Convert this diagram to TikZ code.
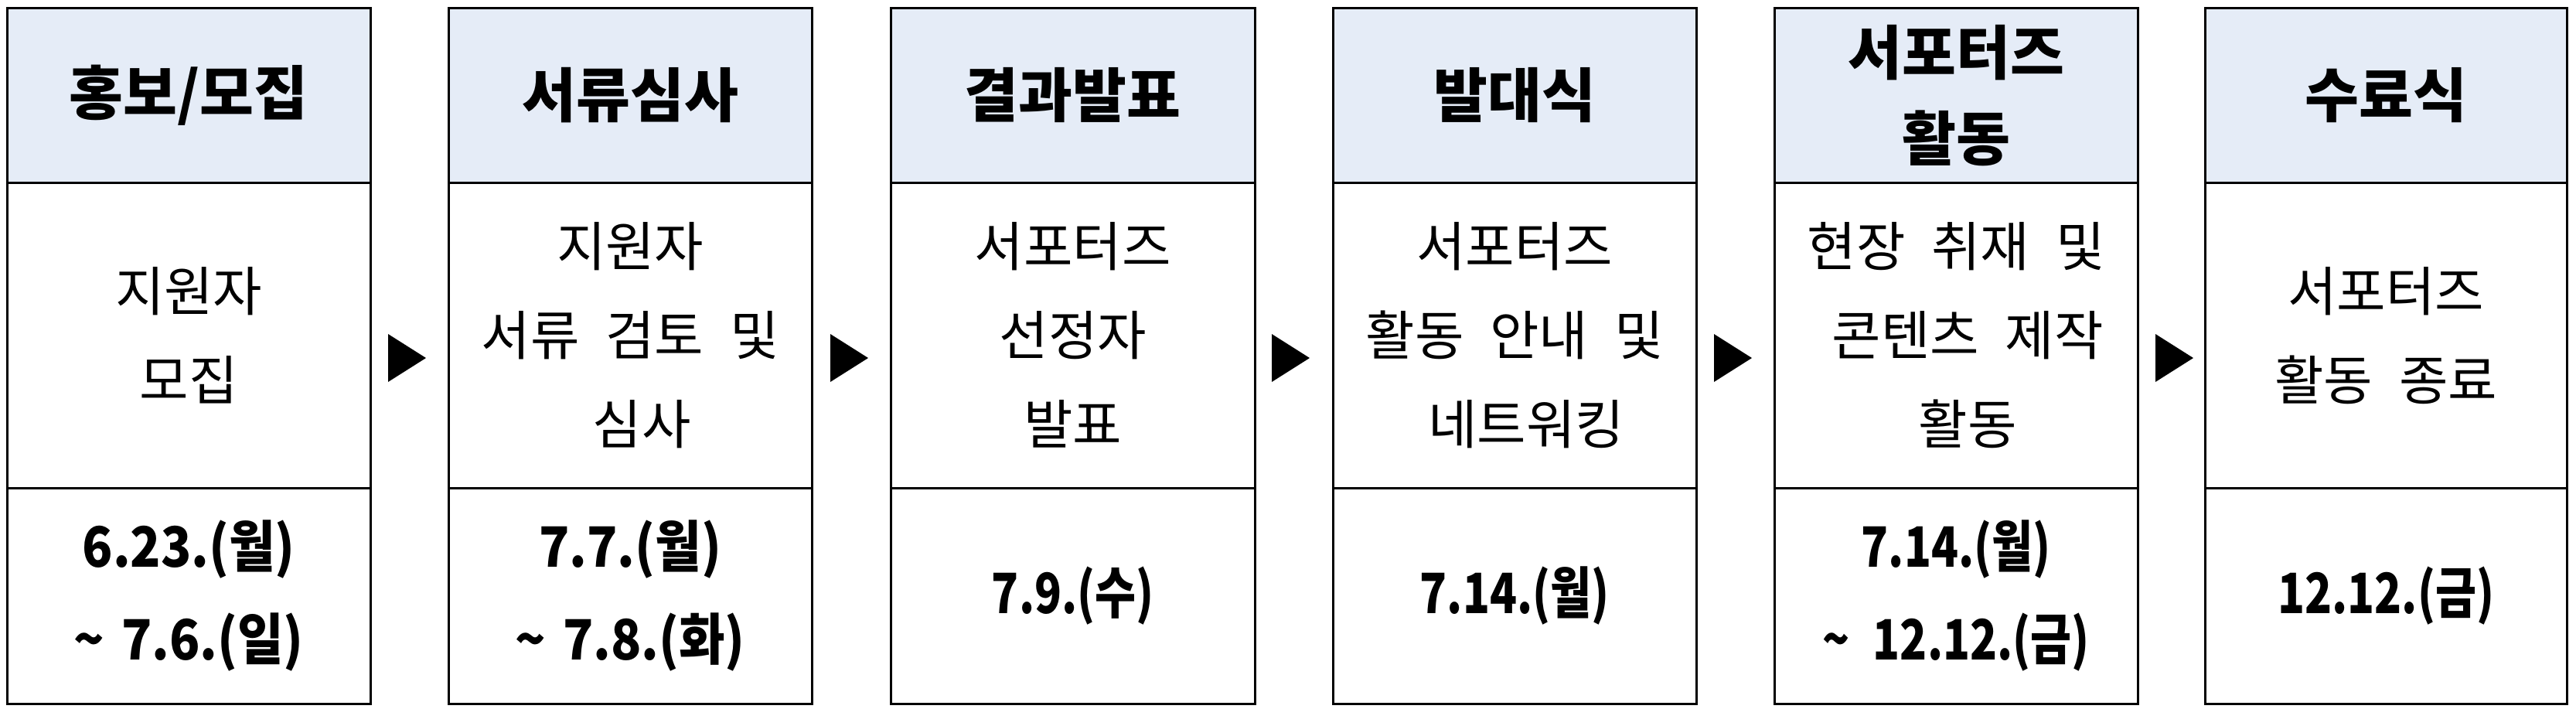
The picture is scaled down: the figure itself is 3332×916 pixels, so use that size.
\documentclass[tikz,border=0pt]{standalone}
\usepackage{fontspec}
\newfontfamily\krh{Noto Sans CJK KR}
\newfontfamily\krb{Noto Sans CJK KR}
\newfontfamily\krd{Noto Sans CJK KR}[FakeStretch=0.9]
\newfontfamily\krc{Noto Sans CJK KR}[FakeStretch=0.8]
\newcommand\wsp{\hspace{34pt}}
\newcommand\lsp{\hspace*{30pt}}
\definecolor{hdrblue}{RGB}{229,236,247}
\tikzset{
  cell/.style={draw=black, line width=2.5pt, inner sep=0pt, minimum width=470pt, anchor=north west, align=center},
  hdr/.style={cell, fill=hdrblue, minimum height=226pt, font=\krh\bfseries\fontsize{76}{111}\selectfont},
  bodybox/.style={cell, minimum height=395pt, font=\krb\fontsize{69}{115}\selectfont},
  datebox/.style={cell, minimum height=279pt, font=\krd\bfseries\fontsize{72}{120}\selectfont},
  cdatebox/.style={cell, minimum height=279pt, font=\krc\bfseries\fontsize{72}{120}\selectfont},
  arrowtri/.style={fill=black}
}
\begin{document}
\begin{tikzpicture}[x=1pt,y=-1pt]
\useasboundingbox (0,0) rectangle (3332,916);
% column 1
\node[hdr] (h1) at (8,9) {홍보/모집};
\node[bodybox] (b1) at (8,235) {지원자\\모집};
\node[datebox] (d1) at (8,630) {6.23.(월)\\\textasciitilde\hspace{22pt}7.6.(일)};
% column 2
\node[hdr] (h2) at (579,9) {서류심사};
\node[bodybox] (b2) at (579,235) {지원자\\서류\wsp 검토\wsp 및\\\lsp 심사};
\node[datebox] (d2) at (579,630) {7.7.(월)\\\textasciitilde\hspace{22pt}7.8.(화)};
% column 3
\node[hdr, minimum width=471pt] (h3) at (1151,9) {결과발표};
\node[bodybox, minimum width=471pt] (b3) at (1151,235) {서포터즈\\선정자\\발표};
\node[cdatebox, minimum width=471pt] (d3) at (1151,630) {7.9.(수)};
% column 4
\node[hdr] (h4) at (1723,9) {발대식};
\node[bodybox] (b4) at (1723,235) {서포터즈\\활동\wsp 안내\wsp 및\\\lsp 네트워킹};
\node[cdatebox] (d4) at (1723,630) {7.14.(월)};
% column 5
\node[hdr] (h5) at (2294,9) {서포터즈\\활동};
\node[bodybox] (b5) at (2294,235) {현장\wsp 취재\wsp 및\\\lsp 콘텐츠\wsp 제작\\\lsp 활동};
\node[cdatebox] (d5) at (2294,630) {7.14.(월)\\\textasciitilde\hspace{30pt}12.12.(금)};
% column 6
\node[hdr, minimum width=468pt] (h6) at (2851,9) {수료식};
\node[bodybox, minimum width=468pt] (b6) at (2851,235) {서포터즈\\활동\wsp 종료};
\node[cdatebox, minimum width=468pt] (d6) at (2851,630) {12.12.(금)};
% arrows between columns
\foreach \tx in {502,1074,1645,2217,2788}{
  \fill[arrowtri] (\tx,432) -- (\tx+49,463) -- (\tx,494) -- cycle;
}
\end{tikzpicture}
\end{document}
